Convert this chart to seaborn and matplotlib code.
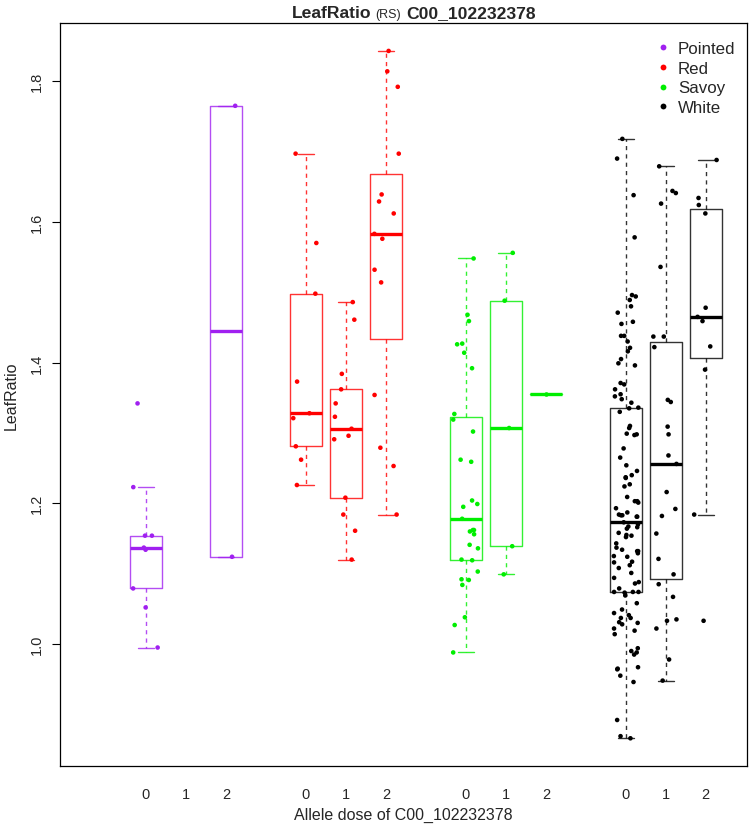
import numpy as np
import pandas as pd
import matplotlib
matplotlib.use("Agg")
import matplotlib.pyplot as plt
from matplotlib.lines import Line2D
import seaborn as sns

# LeafRatio per cabbage type and allele dose of C00_102232378
types = ["Pointed", "Red", "Savoy", "White"]
doses = [0, 1, 2]
type_colors = ["#A020F0", "#FF0000", "#00EE00", "#000000"]

pointed_0 = [1.342, 1.223, 1.154, 1.154, 1.137, 1.134, 1.079, 1.052, 0.995]
pointed_1 = []
pointed_2 = [1.765, 1.124]

red_0 = [1.697, 1.570, 1.498, 1.373, 1.328, 1.321, 1.281, 1.262, 1.226]
red_1 = [1.486, 1.461, 1.384, 1.362, 1.342, 1.323, 1.306, 1.296, 1.291,
         1.208, 1.184, 1.161, 1.120]
red_2 = [1.843, 1.814, 1.792, 1.697, 1.639, 1.629, 1.612, 1.583, 1.576,
         1.532, 1.514, 1.354, 1.279, 1.253, 1.184]

savoy_0 = [1.548, 1.468, 1.459, 1.427, 1.426, 1.414, 1.392, 1.327, 1.319,
           1.302, 1.262, 1.259, 1.204, 1.199, 1.195, 1.178, 1.162, 1.162,
           1.160, 1.156, 1.141, 1.136, 1.120, 1.119, 1.103, 1.092, 1.091,
           1.084, 1.038, 1.027, 0.988]
savoy_1 = [1.556, 1.488, 1.307, 1.139, 1.099]
savoy_2 = [1.356]

white_0 = [1.718, 1.690, 1.638, 1.578, 1.496, 1.494, 1.489, 1.480, 1.471,
           1.458, 1.455, 1.438, 1.438, 1.430, 1.421, 1.416, 1.405, 1.399,
           1.396, 1.371, 1.369, 1.362, 1.355, 1.352, 1.348, 1.343, 1.336,
           1.335, 1.330, 1.310, 1.307, 1.297, 1.299, 1.298, 1.278, 1.265,
           1.254, 1.246, 1.240, 1.237, 1.236, 1.227, 1.224, 1.209, 1.201,
           1.203, 1.203, 1.193, 1.187, 1.183, 1.181, 1.183, 1.181, 1.184,
           1.173, 1.170, 1.167, 1.166, 1.164, 1.158, 1.154, 1.155, 1.152,
           1.143, 1.137, 1.132, 1.129, 1.132, 1.134, 1.125, 1.124, 1.117,
           1.112, 1.116, 1.108, 1.101, 1.094, 1.086, 1.088, 1.079, 1.074,
           1.074, 1.074, 1.073, 1.069, 1.058, 1.049, 1.044, 1.041, 1.037,
           1.037, 1.030, 1.028, 1.031, 1.022, 1.019, 1.014, 0.994, 0.990,
           0.988, 0.985, 0.965, 0.964, 0.967, 0.955, 0.946, 0.892, 0.869,
           0.866]
white_1 = [1.679, 1.644, 1.641, 1.626, 1.536, 1.437, 1.437, 1.422, 1.347,
           1.344, 1.309, 1.298, 1.268, 1.256, 1.216, 1.192, 1.182, 1.157,
           1.121, 1.099, 1.085, 1.067, 1.035, 1.033, 1.022, 0.978, 0.948]
white_2 = [1.688, 1.634, 1.624, 1.612, 1.478, 1.465, 1.459, 1.423, 1.390,
           1.184, 1.033]

groups = {
    "Pointed": [pointed_0, pointed_1, pointed_2],
    "Red": [red_0, red_1, red_2],
    "Savoy": [savoy_0, savoy_1, savoy_2],
    "White": [white_0, white_1, white_2],
}
palette = dict(zip(types, type_colors))


def box_stats(x, coef=1.5):
    """R style boxplot.stats (Tukey hinges), no outliers drawn"""
    x = np.sort(np.asarray(x, dtype=float))
    n = len(x)
    n4 = np.floor((n + 3) / 2) / 2
    d = np.array([1, n4, (n + 1) / 2, n + 1 - n4, n]) - 1
    fn = 0.5 * (x[np.floor(d).astype(int)] + x[np.ceil(d).astype(int)])
    iqr = fn[3] - fn[1]
    inside = x[(x >= fn[1] - coef * iqr) & (x <= fn[3] + coef * iqr)]
    return dict(med=fn[2], q1=fn[1], q3=fn[3],
                whislo=inside.min(), whishi=inside.max(), fliers=[])


# long table for seaborn, each type gets its own block of three slots
rows = []
for g, t in enumerate(types):
    for d, vals in zip(doses, groups[t]):
        for v in vals:
            rows.append({"type": t, "dose": d, "pos": 4 * g + d + 1, "ratio": v})
df = pd.DataFrame(rows)

sns.set_theme(style="white")
plt.rcParams["font.family"] = ["Liberation Sans", "DejaVu Sans"]

fig = plt.figure(figsize=(7.51, 8.28), dpi=100)
ax = fig.add_axes([60 / 751, 1 - 767 / 828, 687 / 751, 743 / 828])

for g, t in enumerate(types):
    col = palette[t]
    stats, pos = [], []
    for d, vals in zip(doses, groups[t]):
        if len(vals) == 0:
            continue
        stats.append(box_stats(vals))
        pos.append(4 * g + d + 1)
    line = dict(color=col, linewidth=1.0, alpha=0.8)
    ax.bxp(stats, positions=pos, widths=0.8, capwidths=0.4, showfliers=False,
           boxprops=line, capprops=line,
           whiskerprops=dict(color=col, linewidth=1.0, alpha=0.8, linestyle=(0, (3, 3))),
           medianprops=dict(color=col, linewidth=2.4, solid_capstyle="butt"),
           manage_ticks=False, zorder=2)

np.random.seed(11)
sns.stripplot(data=df, x="pos", y="ratio", hue="type", hue_order=types,
              palette=palette, native_scale=True, orient="x", jitter=0.33,
              size=3.3, linewidth=0, legend=False, ax=ax, zorder=3)

ax.set_xlim(-1.15, 16.03)
ax.set_ylim(0.8266, 1.8827)

tick_pos = [4 * g + d + 1 for g in range(len(types)) for d in doses]
ax.set_xticks(tick_pos)
ax.set_xticklabels([str(d) for _ in types for d in doses], fontsize=10.5)
ax.tick_params(axis="x", length=0, pad=15)
ax.set_yticks([1.0, 1.2, 1.4, 1.6, 1.8])
ax.set_yticklabels(["1.0", "1.2", "1.4", "1.6", "1.8"], fontsize=10.5,
                   rotation=90, va="center")
ax.tick_params(axis="y", length=5.5, width=0.8, color="black", pad=6, left=True)

ax.set_xlabel("Allele dose of C00_102232378", fontsize=11.5, labelpad=4)
ax.set_ylabel("LeafRatio", fontsize=11.5, labelpad=8)

for s in ax.spines.values():
    s.set_color("black")
    s.set_linewidth(0.9)

# title: bold name, small "(RS)" tag, bold marker id
fig.text(371 / 751, 1 - 18 / 828, "LeafRatio", fontsize=12.6, fontweight="bold",
         ha="right", va="baseline")
fig.text(388 / 751, 1 - 18 / 828, "(RS)", fontsize=9, ha="center", va="baseline")
fig.text(406 / 751, 1 - 18 / 828, "C00_102232378", fontsize=12.6,
         fontweight="bold", ha="left", va="baseline")

handles = [Line2D([], [], ls="", marker="o", markersize=4.2, markeredgewidth=0,
                  color=palette[t]) for t in types]
ax.legend(handles, types, loc="upper left", bbox_to_anchor=(655 / 751, 1 - 42 / 828),
          bbox_transform=fig.transFigure, frameon=False, fontsize=12.2,
          handlelength=0.9, handletextpad=0.45, labelspacing=0.28,
          borderpad=0, borderaxespad=0)

fig.savefig("out.png", dpi=100)
